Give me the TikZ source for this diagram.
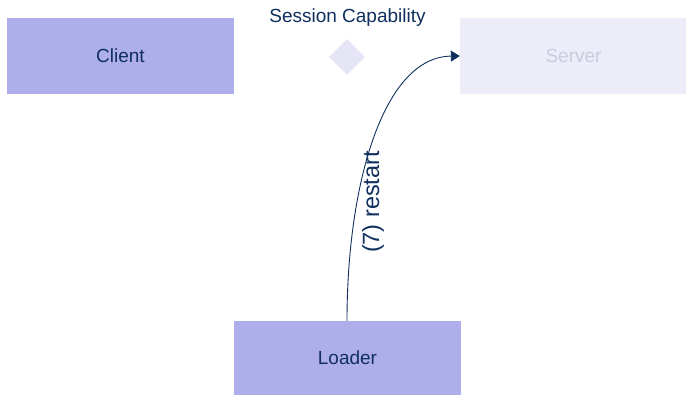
\documentclass[tikz,border=0pt]{standalone}
\usepackage{fontspec}
\setmainfont{Liberation Sans}
\usetikzlibrary{shapes.geometric,arrows.meta}
\definecolor{boxfill}{HTML}{AEAEEA}
\definecolor{fadedfill}{HTML}{EDEDF9}
\definecolor{fadedtext}{HTML}{C9CCDC}
\definecolor{navy}{HTML}{0F2F5E}
\definecolor{diamondfill}{HTML}{E5E5F6}
\begin{document}
\begin{tikzpicture}[x=1pt,y=-1pt,
  block/.style={fill=boxfill, draw=none, minimum width=227pt, minimum height=76pt,
    inner sep=0pt, text=navy, font=\fontsize{19}{22}\selectfont},
  fadedblock/.style={block, fill=fadedfill, text=fadedtext},
  flow/.style={draw=navy, line width=0.9pt, -{Triangle[length=9pt,width=11pt]}},
  lbl/.style={text=navy, font=\fontsize{19}{22}\selectfont},
  edgelbl/.style={text=navy, font=\fontsize{23.5}{26}\selectfont}]
  \useasboundingbox (0,0) rectangle (686,395);
  \node[block] (client) at (120.5,56) {Client};
  \node[fadedblock] (server) at (573.5,56) {Server};
  \node[block, minimum height=74pt] (loader) at (347.5,358) {Loader};
  \node[diamond, fill=diamondfill, minimum width=36pt, minimum height=36pt, inner sep=0pt] (cap) at (347,57) {};
  \node[lbl, anchor=base] (captext) at (347.5,23) {Session Capability};
  \draw[flow] (loader.north -| cap) .. controls (347,185) and (383,57) .. (server.west);
  \node[edgelbl, rotate=90, inner sep=0pt] (restart) at (373,202) {(7) restart};
\end{tikzpicture}
\end{document}
